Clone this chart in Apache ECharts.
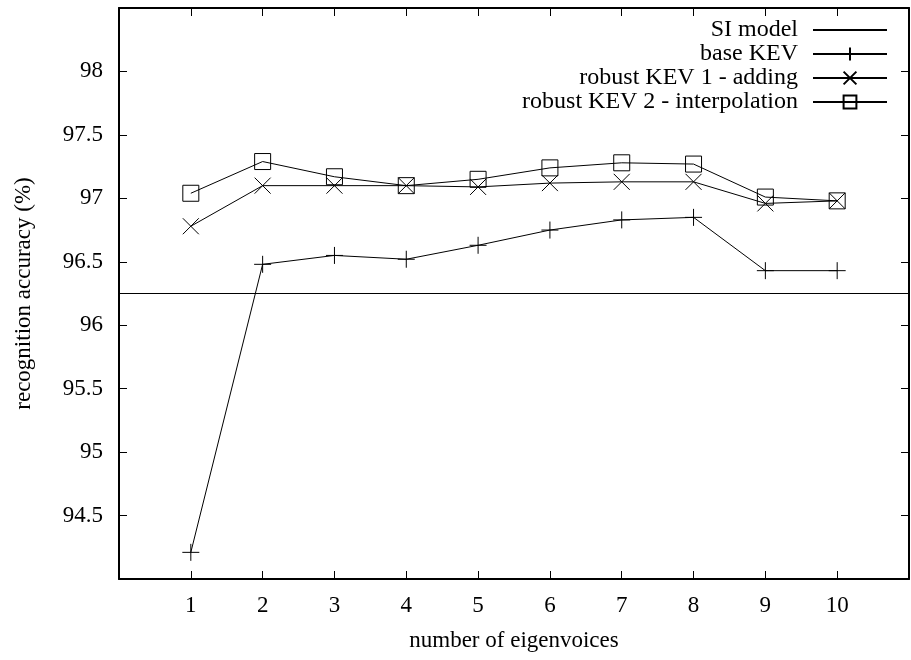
<!DOCTYPE html>
<html>
<head>
<meta charset="utf-8">
<script src="https://cdn.jsdelivr.net/npm/echarts@6/dist/echarts.min.js"></script>
<style>
  html, body { margin: 0; padding: 0; background: #fff; }
  #chart { width: 911px; height: 660px; }
</style>
</head>
<body>
<div id="chart"></div>
<script>
const eigenvoices = [1, 2, 3, 4, 5, 6, 7, 8, 9, 10]
const siModel = 96.25
const baseKev = [94.21, 96.48, 96.55, 96.52, 96.63, 96.75, 96.83, 96.85, 96.43, 96.43]
const robustKev1 = [96.78, 97.10, 97.10, 97.10, 97.09, 97.12, 97.13, 97.13, 96.96, 96.98]
const robustKev2 = [97.04, 97.29, 97.17, 97.10, 97.15, 97.24, 97.28, 97.27, 97.01, 96.98]

const font = 'Liberation Serif'
const fs = 23
const plus = 'path://M0,5L10,5M5,0L5,10'
const cross = 'path://M0,0L10,10M0,10L10,0'
const square = 'path://M0,0L10,0L10,10L0,10Z'

const toPoints = vals => vals.map((v, i) => [eigenvoices[i], v])

const chart = echarts.init(document.getElementById('chart'))

const markerSeries = (name, vals, symbol, size) => ({
  name: name,
  type: 'line',
  data: toPoints(vals),
  symbol: symbol,
  symbolSize: size,
  showAllSymbol: true,
  lineStyle: { color: '#000', width: 1 },
  itemStyle: { color: 'transparent', borderColor: '#000', borderWidth: 1 },
  emphasis: { disabled: true },
  animation: false,
  z: 3
})

// ticks point into the plot
const tick = { show: true, inside: true, length: 8, lineStyle: { color: '#000', width: 1 } }
const frameLine = { show: true, onZero: false, lineStyle: { color: '#000', width: 2 } }

chart.setOption({
  backgroundColor: '#fff',
  textStyle: { fontFamily: font },
  grid: { left: 119, right: 2, top: 8, bottom: 81 },
  legend: {
    orient: 'vertical',
    right: 18,
    top: 13,
    align: 'right',
    itemWidth: 74,
    itemHeight: 16,
    itemGap: 0,
    textStyle: { fontFamily: font, fontSize: 24, color: '#000', padding: [0, 10, 0, 0] },
    data: ['SI model', 'base KEV', 'robust KEV 1 - adding', 'robust KEV 2 - interpolation']
  },
  xAxis: [{
    type: 'value',
    min: 0,
    max: 11,
    interval: 1,
    name: 'number of eigenvoices',
    nameLocation: 'middle',
    nameGap: 50,
    nameTextStyle: { fontFamily: font, fontSize: fs, color: '#000' },
    axisLine: frameLine,
    splitLine: { show: false },
    axisTick: tick,
    axisLabel: {
      fontFamily: font, fontSize: fs, color: '#000', margin: 15,
      showMinLabel: false, showMaxLabel: false
    }
  }, {
    type: 'value', min: 0, max: 11, interval: 1, position: 'top',
    axisLine: frameLine, axisTick: tick,
    axisLabel: { show: false }, splitLine: { show: false }
  }],
  yAxis: [{
    type: 'value',
    min: 94,
    max: 98.5,
    interval: 0.5,
    name: 'recognition accuracy (%)',
    nameLocation: 'middle',
    nameGap: 84,
    nameTextStyle: { fontFamily: font, fontSize: fs, color: '#000' },
    axisLine: frameLine,
    splitLine: { show: false },
    axisTick: tick,
    axisLabel: {
      fontFamily: font, fontSize: fs, color: '#000', margin: 16,
      showMinLabel: false, showMaxLabel: false
    }
  }, {
    type: 'value', min: 94, max: 98.5, interval: 0.5, position: 'right',
    axisLine: frameLine, axisTick: tick,
    axisLabel: { show: false }, splitLine: { show: false }
  }],
  series: [
    {
      name: 'SI model',
      type: 'line',
      data: [[0, siModel], [11, siModel]],
      symbol: 'rect',
      symbolSize: 1,
      showSymbol: false,
      lineStyle: { color: '#000', width: 1 },
      itemStyle: { color: 'transparent', borderWidth: 0 },
      emphasis: { disabled: true },
      animation: false
    },
    markerSeries('base KEV', baseKev, plus, 17),
    markerSeries('robust KEV 1 - adding', robustKev1, cross, 16),
    markerSeries('robust KEV 2 - interpolation', robustKev2, square, 16)
  ]
})
</script>
</body>
</html>
